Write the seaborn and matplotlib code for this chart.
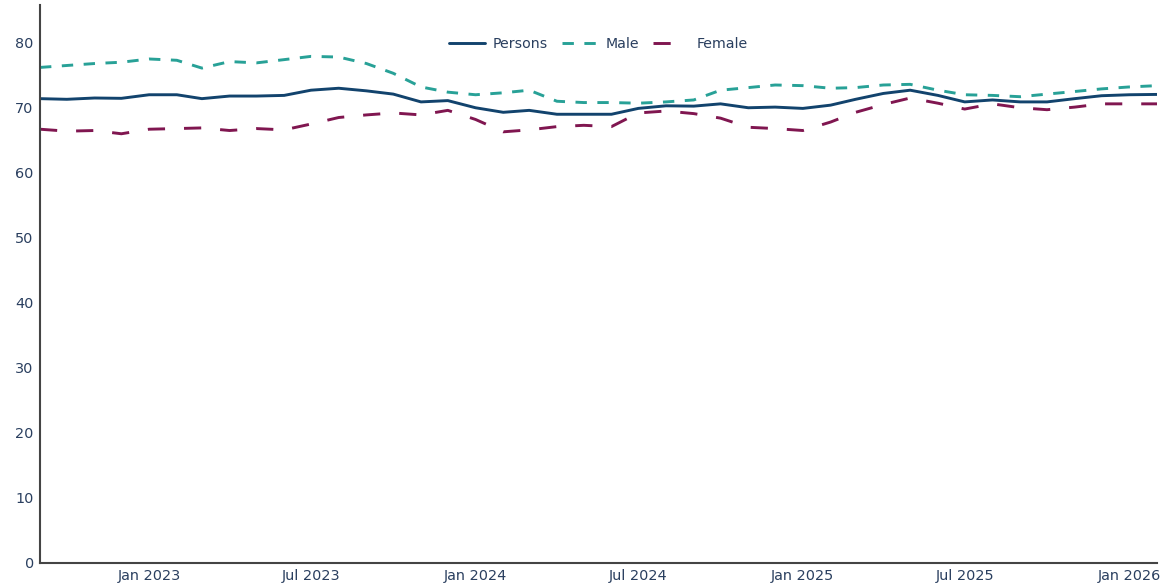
import matplotlib
matplotlib.use("Agg")
import matplotlib.pyplot as plt
import matplotlib.dates as mdates
import numpy as np
import pandas as pd
import seaborn as sns

# Monthly series, Sep 2022 to Feb 2026
start_month = "2022-09-01"
n_months = 42

persons = [71.4, 71.3, 71.5, 71.45, 72.0, 72.0, 71.4, 71.8, 71.8, 71.9,
           72.7, 73.0, 72.6, 72.1, 70.9, 71.1, 70.0, 69.3, 69.6, 69.0,
           69.0, 69.0, 69.9, 70.3, 70.25, 70.6, 70.0, 70.1, 69.9, 70.4,
           71.3, 72.2, 72.7, 71.9, 70.9, 71.2, 70.9, 70.9, 71.4, 71.85,
           72.0, 72.05]
male = [76.2, 76.5, 76.8, 77.0, 77.5, 77.3, 76.1, 77.1, 76.9, 77.4,
        77.9, 77.8, 76.8, 75.3, 73.2, 72.4, 72.0, 72.3, 72.7, 71.0,
        70.8, 70.8, 70.7, 70.9, 71.2, 72.7, 73.1, 73.5, 73.4, 73.0,
        73.1, 73.5, 73.6, 72.7, 72.0, 71.9, 71.7, 72.1, 72.5, 72.9,
        73.2, 73.4]
female = [66.7, 66.4, 66.5, 66.0, 66.7, 66.8, 66.9, 66.5, 66.8, 66.6,
          67.5, 68.5, 68.9, 69.2, 68.9, 69.6, 68.2, 66.3, 66.6, 67.1,
          67.3, 67.1, 69.2, 69.5, 69.1, 68.4, 67.0, 66.8, 66.5, 67.8,
          69.3, 70.5, 71.5, 70.7, 69.8, 70.6, 70.0, 69.7, 70.1, 70.6,
          70.6, 70.6]
series_names = ["Persons", "Male", "Female"]
y_ticks = [0, 10, 20, 30, 40, 50, 60, 70, 80]

months = pd.date_range(start_month, periods=n_months, freq="MS")
df = pd.DataFrame({
    "month": np.tile(months, 3),
    "value": persons + male + female,
    "series": np.repeat(series_names, n_months),
})

sns.set_style("white")
plt.rcParams["font.family"] = ["DejaVu Sans"]

text_color = "#2a3f5f"
palette = {"Persons": "#12436D", "Male": "#28A197", "Female": "#801650"}
dashes = {"Persons": "", "Male": (3.9, 3.6), "Female": (5.9, 6.5)}

fig = plt.figure(figsize=(11.63, 5.86), dpi=100)
ax = fig.add_axes([40 / 1163, 23 / 586, 1117 / 1163, 558 / 586])

sns.lineplot(data=df, x="month", y="value", hue="series", style="series",
             palette=palette, dashes=dashes, linewidth=2.1, ax=ax,
             hue_order=series_names, style_order=series_names)

ax.set_xlim(months[0], months[-1])
ax.set_ylim(0, 85.8)
ax.set_yticks(y_ticks)
ax.xaxis.set_major_locator(mdates.MonthLocator(bymonth=[1, 7]))
ax.xaxis.set_major_formatter(mdates.DateFormatter("%b %Y"))
ax.tick_params(axis="both", length=0, labelsize=10.4, labelcolor=text_color)
ax.tick_params(axis="x", pad=4.5)
ax.tick_params(axis="y", pad=4.5)
ax.set_xlabel("")
ax.set_ylabel("")

for side in ["top", "right"]:
    ax.spines[side].set_visible(False)
for side in ["left", "bottom"]:
    ax.spines[side].set_color("#444444")
    ax.spines[side].set_linewidth(1.5)

leg = ax.legend(loc="center", bbox_to_anchor=(0.5, 0.93), ncol=3,
                frameon=False, fontsize=10.2, handlelength=2.55,
                handletextpad=0.55, columnspacing=0.95)
for t in leg.get_texts():
    t.set_color(text_color)

fig.savefig("out.png", dpi=100, facecolor="white")
